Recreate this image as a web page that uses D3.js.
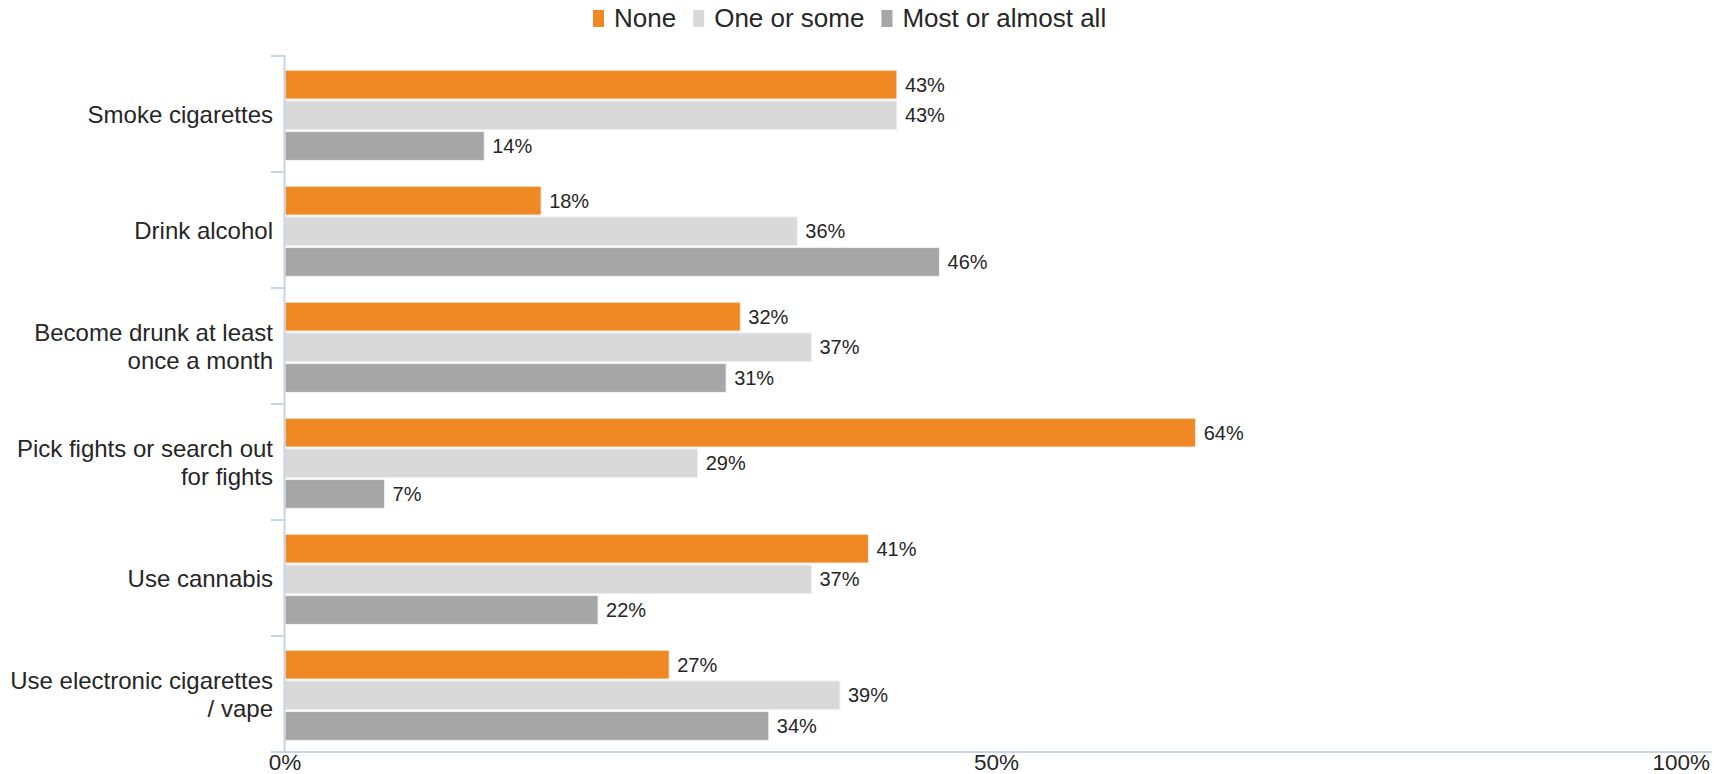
<!DOCTYPE html>
<html>
<head>
<meta charset="utf-8">
<script src="https://cdn.jsdelivr.net/npm/d3@7"></script>
<style>
  html, body { margin: 0; padding: 0; background: #fff; }
  svg { display: block; font-family: "Liberation Sans", Arial, sans-serif; }
</style>
</head>
<body>
<svg id="chart" width="1729" height="774"></svg>
<script>
const categories = [
  "Smoke cigarettes",
  "Drink alcohol",
  "Become drunk at least once a month",
  "Pick fights or search out for fights",
  "Use cannabis",
  "Use electronic cigarettes / vape"
];
const seriesNames = ["None", "One or some", "Most or almost all"];
const noneValues = [43, 18, 32, 64, 41, 27];
const oneOrSomeValues = [43, 36, 37, 29, 37, 39];
const mostValues = [14, 46, 31, 7, 22, 34];
const seriesColors = ["#F08823", "#D9D9D9", "#A6A6A6"];
const xTicks = [0, 50, 100];

(function () {
const seriesValues = [noneValues, oneOrSomeValues, mostValues];

const svg = d3.select("#chart");
const plotLeft = 285, plotRight = 1708, plotTop = 56, plotBottom = 752;
const textColor = "#262626";
const axisColor = "#C8D4E3";

const x = d3.scaleLinear().domain([0, 100]).range([plotLeft, plotRight]);
const y = d3.scaleBand().domain(categories).range([plotTop, plotBottom]).paddingInner(0).paddingOuter(0);
const inner = d3.scaleBand().domain(seriesNames).range([0, y.bandwidth()])
  .paddingInner(0.06).paddingOuter(0.42).align(0.55);

// bars
const g = svg.append("g");
categories.forEach((cat, ci) => {
  seriesNames.forEach((s, si) => {
    const v = seriesValues[si][ci];
    const y0 = y(cat) + inner(s);
    g.append("rect")
      .attr("x", x(0))
      .attr("y", y0)
      .attr("width", x(v) - x(0))
      .attr("height", inner.bandwidth())
      .attr("fill", seriesColors[si])
      .attr("stroke", "#f2f2f2")
      .attr("stroke-width", 1);
    g.append("text")
      .attr("x", x(v) + 8)
      .attr("y", y0 + inner.bandwidth() / 2 + 7)
      .attr("font-size", 20)
      .attr("fill", textColor)
      .text(v + "%");
  });
});

// y axis line and ticks
svg.append("line")
  .attr("x1", plotLeft - 0.5).attr("x2", plotLeft - 0.5)
  .attr("y1", plotTop).attr("y2", plotBottom)
  .attr("stroke", axisColor).attr("stroke-width", 2);
const boundaries = categories.map(c => y(c)).concat([plotBottom]);
svg.selectAll(".ytick").data(boundaries).enter().append("line")
  .attr("x1", plotLeft - 14).attr("x2", plotLeft)
  .attr("y1", d => d).attr("y2", d => d)
  .attr("stroke", axisColor).attr("stroke-width", 2);

// x axis line
svg.append("line")
  .attr("x1", plotLeft - 14).attr("x2", 1712)
  .attr("y1", plotBottom).attr("y2", plotBottom)
  .attr("stroke", axisColor).attr("stroke-width", 2);

// x axis labels
svg.selectAll(".xlab").data(xTicks).enter().append("text")
  .attr("x", d => d === 100 ? 1710 : x(d))
  .attr("y", 770)
  .attr("text-anchor", d => d === 100 ? "end" : "middle")
  .attr("font-size", 22.5)
  .attr("fill", textColor)
  .text(d => d + "%");

// category labels with wrapping
const lineH = 28;
categories.forEach(cat => {
  const t = svg.append("text")
    .attr("text-anchor", "end")
    .attr("font-size", 24)
    .attr("fill", textColor);
  const words = cat.split(" ");
  const lines = [];
  let cur = [];
  const probe = svg.append("text").attr("font-size", 24).attr("visibility", "hidden");
  words.forEach(w => {
    const test = cur.concat([w]).join(" ");
    probe.text(test);
    if (probe.node().getComputedTextLength() > 268 && cur.length) {
      lines.push(cur.join(" "));
      cur = [w];
    } else {
      cur.push(w);
    }
  });
  lines.push(cur.join(" "));
  probe.remove();
  const cy = y(cat) + y.bandwidth() / 2;
  lines.forEach((ln, i) => {
    t.append("tspan")
      .attr("x", 273)
      .attr("y", cy + 8.6 + (i - (lines.length - 1) / 2) * lineH)
      .text(ln);
  });
});

// legend
const legend = svg.append("g");
let lx = 593;
seriesNames.forEach((s, i) => {
  legend.append("rect")
    .attr("x", lx).attr("y", 10)
    .attr("width", 11).attr("height", 17)
    .attr("fill", seriesColors[i]);
  const tx = legend.append("text")
    .attr("x", lx + 21).attr("y", 27)
    .attr("font-size", 26)
    .attr("fill", textColor)
    .text(s);
  lx = lx + 21 + tx.node().getComputedTextLength() + 17;
});
})();
</script>
</body>
</html>
